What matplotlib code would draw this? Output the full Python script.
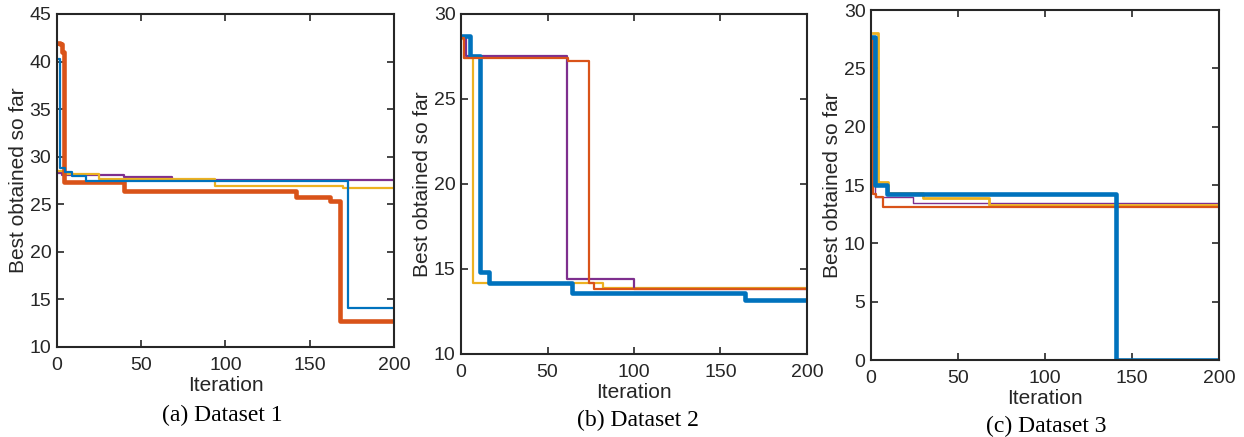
import numpy as np
import matplotlib.pyplot as plt

plt.rcParams['font.family'] = ['Liberation Sans', 'DejaVu Sans']

# colours (MATLAB default order)
c_blue = '#0072BD'
c_orange = '#D95319'
c_yellow = '#EDB120'
c_purple = '#7E2F8E'

# Dataset 1: (iteration breakpoints, best value) per run
d1_purple_x = [0, 3, 40, 68, 200]
d1_purple_y = [28.3, 28.05, 27.9, 27.6, 27.6]
d1_yellow_x = [0, 5, 25, 94, 170, 200]
d1_yellow_y = [28.5, 28.2, 27.7, 26.9, 26.7, 26.7]
d1_blue_x = [1, 2, 5, 9, 17, 173, 200]
d1_blue_y = [40.3, 28.8, 28.4, 28.0, 27.45, 14.1, 14.1]
d1_orange_x = [1, 2, 3, 4, 40, 142, 162, 168, 200]
d1_orange_y = [42.0, 41.8, 41.0, 27.3, 26.4, 25.8, 25.35, 12.7, 12.7]

# Dataset 2
d2_yellow_x = [0, 2, 7, 82, 200]
d2_yellow_y = [28.5, 27.4, 14.15, 13.9, 13.9]
d2_purple_x = [0, 3, 61, 100, 200]
d2_purple_y = [28.6, 27.5, 14.4, 13.8, 13.8]
d2_orange_x = [0, 2, 62, 74, 77, 200]
d2_orange_y = [28.6, 27.4, 27.25, 14.2, 13.85, 13.85]
d2_blue_x = [1, 5, 11, 16, 53, 64, 164, 200]
d2_blue_y = [28.7, 27.5, 14.85, 14.2, 14.15, 13.6, 13.2, 13.2]

# Dataset 3
d3_purple_x = [0, 2, 24, 200]
d3_purple_y = [27.0, 14.0, 13.5, 13.5]
d3_yellow_x = [1, 4, 10, 30, 68, 200]
d3_yellow_y = [28.0, 15.3, 14.3, 13.9, 13.3, 13.3]
d3_orange_x = [0, 1, 3, 7, 200]
d3_orange_y = [27.7, 14.2, 14.0, 13.1, 13.1]
d3_blue_x = [1, 2, 9, 141, 200]
d3_blue_y = [27.7, 15.0, 14.2, 0.0, 0.0]

fig = plt.figure(figsize=(12.44, 4.37), dpi=100)

ax1 = fig.add_axes([0.0458, 0.206, 0.2709, 0.762])
ax2 = fig.add_axes([0.3706, 0.190, 0.2781, 0.778])
ax3 = fig.add_axes([0.7002, 0.176, 0.2797, 0.801])

thin = 1.6
thick = 3.3

ax1.plot(d1_purple_x, d1_purple_y, color=c_purple, lw=thin, drawstyle='steps-post')
ax1.plot(d1_yellow_x, d1_yellow_y, color=c_yellow, lw=thin, drawstyle='steps-post')
ax1.plot(d1_orange_x, d1_orange_y, color=c_orange, lw=thick, drawstyle='steps-post')
ax1.plot(d1_blue_x, d1_blue_y, color=c_blue, lw=thin, drawstyle='steps-post')

ax2.plot(d2_yellow_x, d2_yellow_y, color=c_yellow, lw=thin, drawstyle='steps-post')
ax2.plot(d2_purple_x, d2_purple_y, color=c_purple, lw=thin, drawstyle='steps-post')
ax2.plot(d2_blue_x, d2_blue_y, color=c_blue, lw=thick, drawstyle='steps-post')
ax2.plot(d2_orange_x, d2_orange_y, color=c_orange, lw=thin, drawstyle='steps-post')

ax3.plot(d3_purple_x, d3_purple_y, color=c_purple, lw=1.0, drawstyle='steps-post')
ax3.plot(d3_yellow_x, d3_yellow_y, color=c_yellow, lw=2.0, drawstyle='steps-post')
ax3.plot(d3_orange_x, d3_orange_y, color=c_orange, lw=thin, drawstyle='steps-post')
ax3.plot(d3_blue_x, d3_blue_y, color=c_blue, lw=thick, drawstyle='steps-post')

limits = [(10, 45, 5), (10, 30, 5), (0, 30, 5)]
captions = ['(a) Dataset 1', '(b) Dataset 2', '(c) Dataset 3']
cap_pos = [(0.179, 0.050), (0.513, 0.038), (0.841, 0.025)]

for ax, (lo, hi, st), cap, (cx, cy) in zip([ax1, ax2, ax3], limits, captions, cap_pos):
    ax.set_xlim(0, 200)
    ax.set_ylim(lo, hi)
    ax.set_xticks([0, 50, 100, 150, 200])
    ax.set_yticks(np.arange(lo, hi + 0.1, st))
    ax.tick_params(direction='in', top=True, right=True, length=5, width=1.2,
                   labelsize=14, colors='#262626')
    ax.tick_params(axis='x', pad=7)
    ax.tick_params(axis='y', pad=4)
    for s in ax.spines.values():
        s.set_linewidth(1.5)
        s.set_color('#262626')
    ax.set_xlabel('Iteration', fontsize=15, color='#262626', labelpad=1.5)
    ax.set_ylabel('Best obtained so far', fontsize=15, color='#262626', labelpad=1)
    fig.text(cx, cy, cap, ha='center', va='center', fontsize=17,
             family='Liberation Serif')

fig.savefig('out.png', dpi=100)
